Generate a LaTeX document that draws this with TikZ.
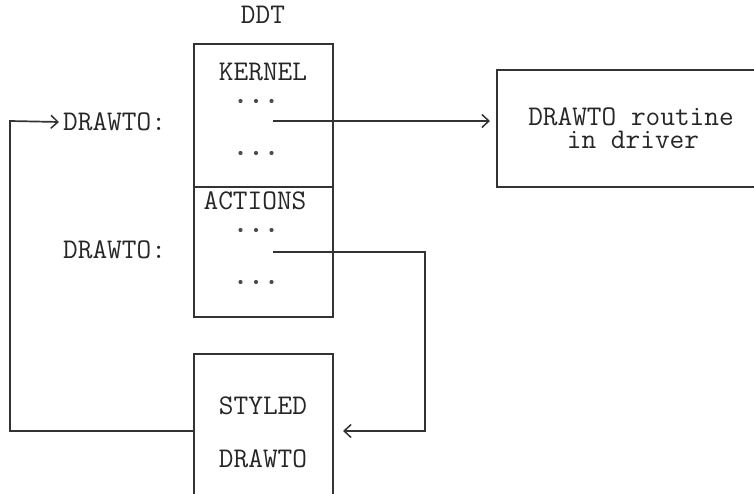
\documentclass[tikz,border=0pt]{standalone}
\usetikzlibrary{arrows.meta}
\tikzset{
  ln/.style={draw=black!80, line width=1.7pt},
  lbl/.style={inner sep=0pt, font=\ttfamily\fontsize{28.5pt}{20pt}\selectfont, text=black!85},
  dots/.style={inner sep=0pt},
  box/.style={ln, rectangle, inner sep=0pt},
  tip/.style={-{Straight Barb[length=7pt,width=13pt,line width=1.5pt]}}
}
\newcommand{\mydots}{\tikz[baseline]{\foreach \i in {0,1,2}{\fill[black!70] (\i*15.5pt,0) circle (2.1pt);}}}
\begin{document}
\begin{tikzpicture}[x=1pt,y=-1pt]
\useasboundingbox (0,0) rectangle (754,494);
% DDT box
\node[lbl] (ddt) at (263,15) {DDT};
\node[box, minimum width=139pt, minimum height=143pt] (kbox) at (263.5,115.5) {};
\node[box, minimum width=139pt, minimum height=130pt] (abox) at (263.5,252) {};
\node[lbl] (kernel) at (263,72) {KERNEL};
\node[dots] (d1) at (256,101) {\mydots};
\node[dots] (d2) at (256,153) {\mydots};
\node[lbl] (actions) at (255,201) {ACTIONS};
\node[dots] (d3) at (256,230) {\mydots};
\node[dots] (d4) at (256,282) {\mydots};
% labels
\node[lbl, anchor=west] (dt1) at (63,122) {DRAWTO:};
\node[lbl, anchor=west] (dt2) at (63,250) {DRAWTO:};
% right box (open on the right)
\draw[ln] (754,70) -- (497,70) -- (497,187) -- (754,187);
\coordinate (rbw) at (497,121);
\node[lbl, anchor=base] (rtext1) at (631,126) {DRAWTO routine};
\node[lbl, anchor=base] (rtext2) at (633,149) {in driver};
% styled box (open at bottom)
\draw[ln] (194,494) -- (194,354) -- (333,354) -- (333,494);
\coordinate (sbw) at (194,431);
\coordinate (sbe) at (333,431);
\node[lbl] (styled) at (263,406) {STYLED};
\node[lbl] (sdraw) at (263,459) {DRAWTO};
% connectors
\coordinate (k0) at (273,121);
\coordinate (a0) at (273,252);
\draw[ln, tip] (k0) -- ([xshift=-7pt]rbw);
\draw[ln, tip] (a0) -- (425,252) -- (425,431) -- ([xshift=10pt]sbe);
\draw[ln, tip] (sbw) -- (10,431) -- (10,121) -- ([xshift=-4pt]dt1.west);
\end{tikzpicture}
\end{document}
